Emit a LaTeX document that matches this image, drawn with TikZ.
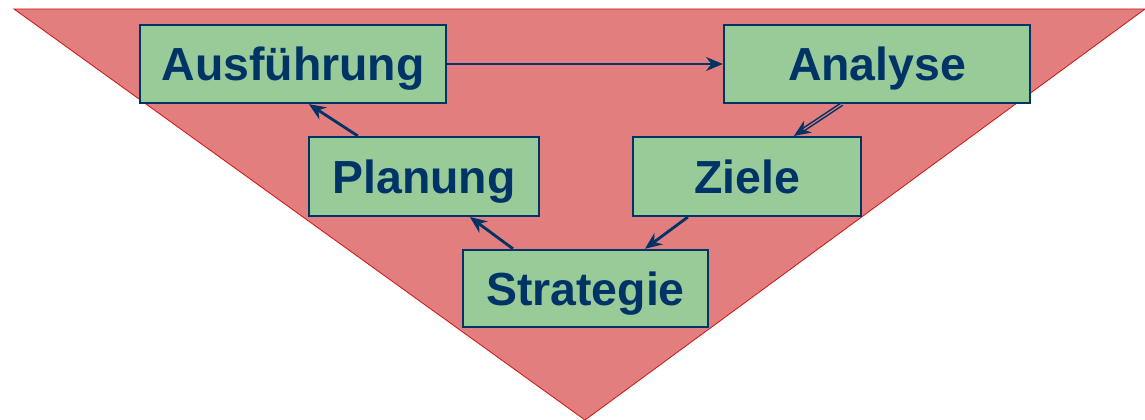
\documentclass[tikz,border=0pt]{standalone}
\usepackage{fontspec}
\setmainfont{Liberation Sans}
\usetikzlibrary{arrows.meta}
\definecolor{dreieck}{HTML}{E37E7E}
\definecolor{rand}{HTML}{D01818}
\definecolor{gruen}{HTML}{99CB99}
\definecolor{navy}{HTML}{003366}
\begin{document}
\begin{tikzpicture}[x=0.025cm,y=-0.025cm,>={Stealth[length=12pt,width=10pt]},
   box/.style={draw=navy,line width=1.6pt,fill=gruen,text=navy,font=\fontsize{33}{38}\selectfont\bfseries,inner sep=0pt,text height=23.6pt,text depth=0pt},
   flow/.style={->,draw=navy,line width=2pt}]
   \useasboundingbox (0,0) rectangle (1145,420);
   % Dreieck
   \filldraw[fill=dreieck,draw=rand,line width=0.6pt] (14,9) -- (1145,9) -- (585,420) -- cycle;
   % Kaestchen
   \node[box,minimum width=7.65cm,minimum height=1.95cm] (ausf) at (293,64) {Ausführung};
   \node[box,minimum width=7.65cm,minimum height=1.95cm] (anal) at (877,64) {Analyse};
   \node[box,minimum width=5.75cm,minimum height=1.97cm] (plan) at (424,176.5) {Planung};
   \node[box,minimum width=5.7cm,minimum height=1.97cm] (ziel) at (747,176.5) {Ziele};
   \node[box,minimum width=6.12cm,minimum height=1.93cm] (strat) at (585.5,288.5) {Strategie};
   % Pfeile
   \draw[flow,line width=1.4pt] (ausf) -- (anal);
   \draw[flow,double=dreieck,double distance=0.8pt,line width=1.1pt] ([xshift=2.975cm]anal.south west) -- ([xshift=4.05cm]ziel.north west);
   \draw[flow] ([xshift=1.4cm]ziel.south west) -- ([xshift=4.575cm]strat.north west);
   \draw[flow] ([xshift=1.275cm]strat.north west) -- ([xshift=4.05cm]plan.south west);
   \draw[flow] ([xshift=1.25cm]plan.north west) -- ([xshift=4.25cm]ausf.south west);
\end{tikzpicture}
\end{document}
